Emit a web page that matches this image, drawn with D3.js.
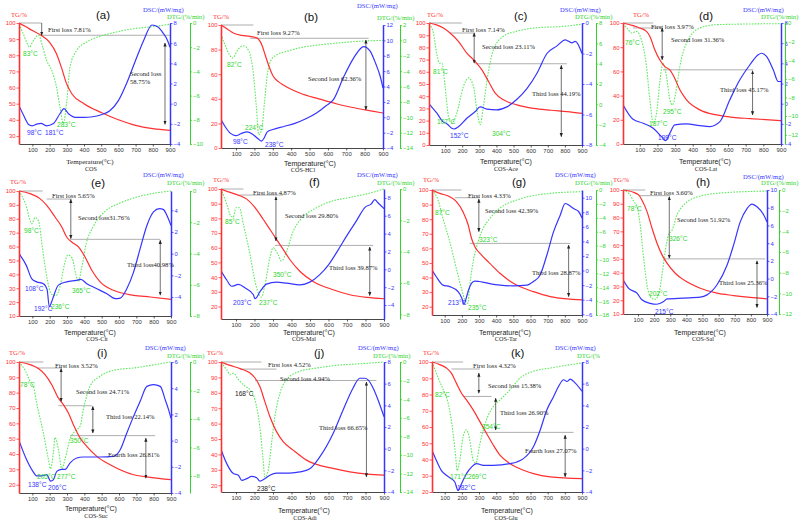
<!DOCTYPE html>
<html><head><meta charset="utf-8">
<script src="https://cdn.jsdelivr.net/npm/d3@7"></script>
<style>body{margin:0;background:#fff}svg{display:block}</style>
</head><body>
<script>
// ---------------- DATA (temperature °C, value) ----------------
const xTicks = [100,200,300,400,500,600,700,800,900];

const tgA = [[22,100],[60,97.8],[100,95.3],[150,92.4],[200,88],[240,81],[270,72],[300,62],[330,56],[400,50],[500,44.5],[600,40],[700,36.5],[800,34.5],[900,33.4]];
const dscA = [[22,-0.2],[50,-1.2],[80,-2.1],[98,-2.2],[130,-2.0],[150,-1.95],[181,-2.2],[220,-2.0],[260,-1.0],[283,-0.5],[310,-1.0],[350,-1.35],[400,-1.35],[450,-1.3],[500,-1.1],[550,-0.7],[600,0.3],[650,2.1],[700,4.3],[750,6.4],[795,7.8],[830,7.6],[860,7.0],[885,6.3],[900,5.6]];
const dtgA = [[22,-0.1],[50,-1.0],[77,-1.9],[83,-2.0],[100,-1.6],[135,-1.0],[160,-2.0],[183,-3.1],[212,-3.9],[240,-5.3],[260,-6.9],[280,-8.3],[300,-6.4],[319,-3.6],[358,-2.25],[416,-1.57],[493,-1.1],[590,-0.74],[687,-0.47],[800,-0.3],[900,-0.1]];

const tgB = [[18,100],[50,97],[85,93.5],[130,91.5],[176,90.8],[213,89.5],[240,84],[260,75],[280,66],[300,59],[330,54],[360,51],[450,44.5],[550,40],[650,35.8],[750,32.5],[850,29.8],[900,28.4]];
const dscB = [[18,-0.3],[40,-1.2],[70,-2.1],[98,-2.4],[130,-2.1],[160,-1.9],[190,-2.2],[220,-2.8],[238,-3.1],[255,-2.6],[270,-1.9],[300,-1.6],[360,-1.2],[420,-0.8],[480,-0.2],[540,0.6],[590,1.5],[630,2.3],[685,5.2],[740,7.7],[795,9.2],[830,8.6],[860,7.0],[885,5.3],[900,3.8]];
const dtgB = [[18,0.8],[40,-0.6],[65,-1.9],[82,-2.3],[110,-1.2],[140,-0.7],[170,-1.4],[195,-4.5],[210,-8.5],[224,-12.3],[240,-11.5],[255,-8],[270,-4.5],[290,-2.6],[320,-1.9],[380,-1.4],[450,-0.95],[550,-0.6],[650,-0.35],[750,-0.15],[900,0]];

const tgC = [[6,100],[50,98.5],[90,95.9],[129,91.8],[178,84.9],[227,75.3],[276,68.5],[315,61.6],[354,52],[393,42.5],[441,37],[520,32.9],[617,30],[720,28.5],[812,27.4],[900,26]];
const dscC = [[6,-5.3],[51,-5.9],[90,-6.5],[110,-6.6],[139,-6.9],[152,-6.95],[178,-6.8],[227,-6.25],[276,-5.8],[305,-5.5],[344,-5.65],[402,-5.7],[461,-5.5],[520,-5.0],[578,-4.3],[637,-3.3],[695,-2.0],[754,-1.5],[802,-1.1],[841,-1.3],[861,-1.2],[900,-2.0]];
const dtgC = [[6,7.9],[32,7.0],[51,5.0],[67,4.05],[81,4.05],[100,1.75],[120,-1.2],[139,-1.87],[168,-0.9],[207,1.75],[237,2.6],[266,1.75],[289,-0.9],[305,-2.0],[324,-0.2],[348,2.7],[383,5.4],[441,6.7],[520,7.2],[617,7.5],[812,7.7],[900,7.9]];

const tgD = [[5,100],[62,97.8],[100,95.9],[138,93.1],[157,89],[185,77.9],[213,69.6],[242,64],[270,61.3],[298,54.4],[327,44.8],[365,36.5],[440,28.2],[535,24],[629,22],[724,21],[900,19.3]];
const dscD = [[5,-0.1],[62,-1.55],[119,-1.94],[176,-2.44],[223,-3.27],[246,-3.67],[270,-2.94],[298,-2.1],[365,-2.0],[440,-2.18],[497,-2.27],[554,-1.78],[610,0.38],[667,2.37],[724,3.86],[771,4.85],[790,5.0],[818,4.7],[856,3.36],[884,2.2],[900,2.2]];
const dtgD = [[5,-0.07],[34,-0.7],[53,-1.07],[81,-0.9],[109,-1.8],[138,-4.66],[157,-8.2],[176,-10.75],[195,-9.7],[213,-6.45],[232,-4.3],[251,-5.7],[270,-8.2],[285,-8.8],[304,-7.5],[327,-4.66],[365,-2.15],[440,-0.54],[535,-0.18],[900,-0.07]];

const tgE = [[23,100],[87,98.1],[144,94.5],[183,89.7],[231,81.3],[270,74.1],[298,66.9],[327,63.3],[366,59.7],[404,52.5],[443,42.9],[491,34.5],[568,28.5],[684,24.9],[780,23.7],[900,22]];
const dscE = [[23,0],[65,-1.08],[96,-2.3],[125,-2.6],[164,-2.77],[185,-3.3],[198,-4.9],[210,-4.5],[221,-4.0],[250,-2.9],[298,-2.6],[356,-2.46],[380,-2.37],[414,-2.77],[472,-3.23],[530,-3.7],[578,-4.15],[607,-4.1],[645,-3.23],[684,-1.7],[722,0.46],[761,2.6],[799,3.85],[834,4.15],[857,4.06],[876,3.54],[900,2.6]];
const dtgE = [[23,0],[60,-0.8],[98,-2.1],[115,-1.7],[135,-1.9],[160,-3.8],[185,-5.6],[210,-6.6],[236,-6.7],[260,-6.1],[285,-4.7],[305,-4.1],[330,-4.3],[350,-5.3],[365,-5.8],[385,-4.9],[410,-3.4],[450,-2.3],[520,-1.3],[600,-0.8],[700,-0.4],[800,-0.15],[900,0]];

const tgF = [[19,100],[68,97.7],[122,95.4],[158,93.1],[203,87.4],[247,79.4],[283,72.6],[319,65.7],[355,58.9],[391,52],[445,44],[517,37.1],[625,31.4],[715,28],[810,26.2],[900,25.3]];
const dscF = [[19,-0.16],[50,-1.2],[77,-1.9],[113,-1.7],[150,-2.1],[194,-2.85],[203,-3.3],[230,-2.5],[265,-1.66],[319,-1.44],[374,-1.55],[445,-1.74],[499,-1.44],[553,-0.6],[600,0.5],[650,2.1],[700,3.8],[750,5.4],[800,7.0],[830,7.3],[850,7.8],[870,7.4],[900,6.8]];
const dtgF = [[19,0],[50,-0.97],[71,-1.7],[85,-1.8],[100,-1.2],[118,-1.2],[140,-2.25],[176,-4.2],[203,-5.9],[221,-6.65],[237,-6.9],[257,-6.1],[283,-4.4],[301,-3.75],[328,-4.2],[346,-4.6],[373,-4],[409,-2.7],[445,-2.0],[535,-1.2],[625,-0.75],[715,-0.54],[810,-0.3],[900,0]];

const tgG = [[26,100],[71,97.7],[129,95.4],[168,92],[207,85],[237,76],[256,66.9],[276,61.1],[315,55.4],[363,49.7],[422,42.9],[500,36],[617,30.3],[715,26.9],[812,25.3],[900,24.6]];
const dscG = [[26,0.07],[51,-0.85],[90,-2.0],[129,-2.2],[178,-2.9],[200,-3.8],[213,-4.6],[225,-3.8],[240,-2.6],[256,-1.76],[275,-1.44],[300,-1.5],[344,-1.7],[422,-2.0],[500,-2.1],[578,-2.0],[617,-1.5],[656,-0.6],[695,2.1],[734,5.3],[773,7.6],[802,9.2],[822,9.0],[851,8.5],[880,8.1],[900,7.2]];
const dtgG = [[26,0],[61,-1.44],[90,-4.1],[129,-7.4],[168,-11.3],[198,-14.2],[217,-15.8],[235,-16.3],[246,-13.7],[266,-10.3],[295,-7.4],[324,-5.5],[363,-4.1],[422,-2.6],[520,-1.44],[617,-0.8],[715,-0.48],[900,-0.24]];

const tgH = [[7,100],[73,98.3],[104,96.4],[124,92.8],[156,84.3],[187,72.2],[218,61.4],[249,52.9],[280,46.9],[331,39.6],[383,34.8],[486,28.7],[590,25.1],[693,23.4],[796,22],[900,21]];
const dscH = [[7,-0.15],[42,-1.1],[94,-1.65],[124,-2.4],[176,-2.8],[215,-2.9],[259,-2.6],[280,-2.3],[383,-2.2],[486,-2.1],[528,-1.84],[590,-0.7],[652,1.5],[693,3.8],[734,6.4],[776,7.9],[807,8.4],[838,8.1],[879,7.2],[900,6.4]];
const dtgH = [[7,0],[52,-0.5],[73,-1.1],[94,-1.6],[114,-3.4],[135,-6.6],[156,-9.2],[176,-10.3],[202,-10.6],[228,-10.1],[249,-8.2],[269,-5.9],[290,-4.3],[311,-3.9],[342,-2.4],[383,-1.45],[445,-0.8],[590,-0.32],[900,-0.1]];

const tgI = [[23,100],[87,98.3],[135,95.7],[173,91.7],[212,85.2],[250,76.5],[279,72.2],[308,66.7],[337,59.1],[376,50.4],[414,45],[472,38.5],[549,33],[684,26.5],[780,24.8],[900,23.3]];
const dscI = [[23,0],[67,-1.46],[106,-2.4],[125,-2.7],[154,-2.7],[183,-2.6],[206,-3.1],[221,-3.0],[241,-2.35],[270,-2.2],[289,-2.2],[318,-1.7],[356,-1.33],[395,-1.25],[491,-1.25],[568,-1.2],[607,-0.7],[645,0.58],[684,1.85],[722,3.0],[761,4.14],[799,4.27],[838,4.14],[867,3.1],[886,2.36],[900,1.7]];
const dtgI = [[23,0],[61,-0.65],[87,-1.35],[106,-1.7],[125,-2.9],[164,-5.0],[192,-6.8],[205,-7.5],[221,-6.4],[231,-5.3],[250,-6.1],[270,-7.5],[289,-6.8],[318,-5.4],[347,-4.85],[376,-4.5],[395,-3.3],[433,-1.7],[491,-1.0],[587,-0.54],[684,-0.42],[800,-0.2],[900,0]];

const tgJ = [[19,100],[68,97.8],[122,95.7],[176,92.8],[203,89.6],[229,84.1],[256,74.3],[283,64.6],[319,54.8],[355,48.3],[409,42.8],[481,36.3],[625,30.9],[715,28.7],[810,27.2],[900,26.5]];
const dscJ = [[19,-0.08],[50,-1.38],[86,-2.3],[113,-2.46],[131,-2.93],[158,-2.77],[185,-2.56],[212,-2.68],[229,-3.0],[256,-2.77],[283,-2.46],[319,-2.25],[391,-2.25],[445,-2.15],[499,-1.85],[553,-0.76],[625,1.4],[679,3.57],[733,5.6],[769,6.5],[796,6.5],[814,6.35],[841,5.6],[868,4.5],[900,2.95]];
const dtgJ = [[19,-0.1],[50,-0.83],[68,-1.37],[86,-1.2],[113,-1.9],[149,-2.6],[176,-3.0],[203,-4.1],[229,-7.0],[247,-10.6],[256,-12.4],[274,-11.7],[292,-8.8],[310,-5.9],[337,-3.4],[373,-1.9],[445,-1.0],[535,-0.65],[625,-0.4],[800,-0.15],[900,0]];

const tgK = [[26,100],[71,98.4],[110,96.3],[139,93.2],[168,87],[198,80.8],[227,76.7],[266,70.5],[305,63.3],[344,56],[383,48.9],[422,42.7],[480,37.5],[559,33.4],[617,31.3],[715,29.3],[900,28.2]];
const dscK = [[26,-0.14],[51,-1.07],[80,-2.0],[110,-2.46],[139,-2.77],[159,-3.08],[178,-3.86],[198,-3.24],[227,-2.3],[256,-1.7],[286,-1.38],[325,-1.54],[383,-1.54],[480,-1.38],[520,-1.23],[559,-0.92],[617,0.17],[656,1.7],[695,3.57],[734,4.8],[763,5.74],[793,6.36],[812,6.2],[832,6.42],[861,6.05],[900,5.3]];
const dtgK = [[26,0],[51,-1.2],[71,-2.1],[100,-3.36],[120,-4.4],[149,-7.7],[164,-10.2],[172,-11.7],[188,-10.6],[207,-8.05],[227,-7.3],[246,-8.4],[266,-10.6],[281,-10.9],[305,-8.8],[344,-6.2],[383,-4.8],[422,-4.1],[480,-3.0],[539,-1.73],[617,-1.0],[715,-0.65],[900,-0.1]];

// reference lines [tStart, tEnd, TG%] and arrows [t, TGfrom, TGto, doubleHeaded]
const refA=[[22,154,100],[154,900,92.4]], arrA=[[154,100,92.4,0],[871,87.6,37.2,1]];
const refB=[[18,195,100],[176,822,89.2]], arrB=[[807,87.8,31.1,1]];
const refC=[[6,198,100],[129,276,91.8],[276,812,66.6]], arrC=[[270,91.8,67.1,1],[779,65.2,6.8,1]];
const refD=[[5,176,100],[62,223,95.9],[232,743,61.3]], arrD=[[227,95.9,69.6,1],[739,60.5,24,1]];
const refE=[[23,160,100],[183,327,94.2],[318,838,65.2]], arrE=[[322,94,65.7,1],[838,64.5,25,1]];
const refF=[[19,140,100],[118,355,95.9],[310,841,61.6]], arrF=[[316,94.7,64.6,1],[823,60.5,27.5,1]];
const refG=[[26,198,100],[159,305,94.7],[246,832,63.4]], arrG=[[299,93.8,71.4,1],[822,62.3,26.9,1]];
const refH=[[7,145,100],[104,300,95.9],[259,889,50]], arrH=[[294,95.2,50.5,1],[838,48.6,14.7,1]];
const refI=[[23,164,100],[125,270,96.1],[250,443,71.5],[318,809,52]], arrI=[[266,95.7,74.3,1],[449,71.1,53.7,1],[755,50.4,24.3,1]];
const refJ=[[19,238,100],[122,319,95.4],[203,859,88]], arrJ=[[805,87,25.4,1]];
const refK=[[26,207,100],[139,305,95.7],[207,373,78.8],[305,851,56.7]], arrK=[[299,93.2,80.8,1],[397,77.7,58.1,1],[802,55,29.3,1]];

// ---------------- LAYOUT ----------------
const RED='#ff3030', BLUE='#3535ff', GREEN='#2fd42f', GREENL='#5ee85e';
const SANS="'Liberation Sans', Arial, sans-serif", SERIF="'Liberation Serif','Times New Roman',serif";
const R=(a,b,s)=>d3.range(a,b+s/2,s);
const TICKFS=5.9, NOTEFS=6.6, PEAKFS=6.6, TITLEFS=6.6;

const panels = [
 {id:'a',name:'COS',tg:tgA,dsc:dscA,dtg:dtgA,ref:refA,arr:arrA,
  g:{x0:19,x1:170,y0:23,y1:144,dx:190},xd:[22,900],tgd:[25,100],tgt:R(30,100,10),dscd:[-4,8],dsct:R(-4,8,2),dtgd:[-10,0],dtgt:R(-10,0,2),
  t:{tg:[11,17],let:[96,19],dsc:[143,12],dtg:[167,19],temp:[90,164],nm:[91,171]},
  notes:[[48,32,'First loss 7.81%'],[130,76,'Second loss'],[130,84,'58.75%']],
  peaks:[[23,56,'83°C','g'],[57,127,'283°C','g'],[27,135,'98°C','b'],[45,135,'181°C','b']]},
 {id:'b',name:'COS-HCl',tg:tgB,dsc:dscB,dtg:dtgB,ref:refB,arr:arrB,
  g:{x0:221,x1:383,y0:25,y1:148,dx:400},xd:[18,900],tgd:[0,100],tgt:R(0,100,20),dscd:[-4,12],dsct:R(-4,12,2),dtgd:[-14,2],dtgt:R(-14,2,2),
  t:{tg:[213,19],let:[304,21],dsc:[357,8],dtg:[377,20],temp:[310,166],nm:[303,172]},
  notes:[[257,35,'First loss 9.27%'],[308,81,'Second loss 62.36%']],
  peaks:[[227,67,'82°C','g'],[245,130,'224°C','g'],[233,144,'98°C','b'],[265,147,'238°C','b']]},
 {id:'c',name:'COS-Ace',tg:tgC,dsc:dscC,dtg:dtgC,ref:refC,arr:arrC,
  g:{x0:429,x1:582,y0:23,y1:145,dx:596},xd:[6,900],tgd:[0,100],tgt:R(0,100,10),dscd:[-8,0],dsct:R(-8,0,2),dtgd:[-4,8],dtgt:R(-4,8,2),
  t:{tg:[427,17],let:[514,20],dsc:[560,12],dtg:[575,19],temp:[506,164],nm:[506,171]},
  notes:[[462,32,'First loss 7.14%'],[482,49,'Second loss 23.11%'],[532,96,'Third loss 44.19%']],
  peaks:[[433,74,'81°C','g'],[437,124,'107°C','g'],[450,138,'152°C','b'],[492,136,'304°C','g']]},
 {id:'d',name:'COS-Lat',tg:tgD,dsc:dscD,dtg:dtgD,ref:refD,arr:arrD,
  g:{x0:623,x1:781,y0:23,y1:144,dx:785},xd:[5,900],tgd:[0,100],tgt:R(0,100,20),dscd:[-4,8],dsct:R(-4,8,2),dtgd:[-13,0],dtgt:R(-12,0,2),
  t:{tg:[633,17],let:[699,20],dsc:[743,12],dtg:[761,19],temp:[705,164],nm:[706,171]},
  notes:[[651,29,'First loss 3.97%'],[671,42,'Second loss 31.36%'],[720,92,'Third loss 45.17%']],
  peaks:[[625,45,'76°C','g'],[649,126,'187°C','g'],[658,140,'199°C','b'],[663,114,'295°C','g']]},
 {id:'e',name:'COS-Cit',tg:tgE,dsc:dscE,dtg:dtgE,ref:refE,arr:arrE,
  g:{x0:19,x1:171,y0:191,y1:316,dx:190},xd:[23,900],tgd:[10,100],tgt:R(10,100,10),dscd:[-5.75,5.78],dsct:R(-4,4,2),dtgd:[-8,0],dtgt:R(-8,0,2),
  t:{tg:[10,184],let:[91,187],dsc:[143,177],dtg:[167,185],temp:[90,335],nm:[97,341]},
  notes:[[52,198,'First loss 5.65%'],[78,220,'Second loss31.76%'],[127,267,'Third loss40.98%']],
  peaks:[[24,233,'98°C','g'],[25,291,'108°C','b'],[34,311,'192°C','b'],[51,309,'236°C','g'],[72,293,'365°C','g']]},
 {id:'f',name:'COS-Mal',tg:tgF,dsc:dscF,dtg:dtgF,ref:refF,arr:arrF,
  g:{x0:221,x1:384,y0:189,y1:319,dx:400},xd:[19,900],tgd:[11.5,100],tgt:R(20,100,10),dscd:[-5.57,9.0],dsct:R(-4,8,2),dtgd:[-8.3,0],dtgt:R(-8,0,2),
  t:{tg:[213,182],let:[309,186],dsc:[357,177],dtg:[377,185],temp:[309,335],nm:[304,341]},
  notes:[[253,195,'First loss 4.87%'],[285,218,'Second loss 29.80%'],[329,270,'Third loss 39.87%']],
  peaks:[[225,224,'85°C','g'],[233,305,'203°C','b'],[259,305,'237°C','g'],[273,277,'350°C','g']]},
 {id:'g',name:'COS-Tar',tg:tgG,dsc:dscG,dtg:dtgG,ref:refG,arr:arrG,
  g:{x0:432,x1:582,y0:190,y1:315,dx:596},xd:[26,900],tgd:[14.3,100],tgt:R(20,100,10),dscd:[-6.1,11.05],dsct:R(-6,10,2),dtgd:[-18,0],dtgt:R(-18,0,2),
  t:{tg:[423,182],let:[512,186],dsc:[555,177],dtg:[575,185],temp:[505,335],nm:[506,341]},
  notes:[[468,198,'First loss 4.33%'],[485,213,'Second loss 42.39%'],[532,275,'Third loss 28.87%']],
  peaks:[[435,215,'87°C','g'],[448,305,'213°C','b'],[468,310,'235°C','g'],[479,242,'323°C','g']]},
 {id:'h',name:'COS-Sal',tg:tgH,dsc:dscH,dtg:dtgH,ref:refH,arr:arrH,
  g:{x0:623,x1:767,y0:190,y1:314,dx:779},xd:[7,900],tgd:[10,100],tgt:R(10,100,10),dscd:[-4,10],dsct:R(-4,10,2),dtgd:[-12,0],dtgt:R(-12,0,2),
  t:{tg:[613,182],let:[696,186],dsc:[743,179],dtg:[761,185],temp:[700,335],nm:[703,341]},
  notes:[[650,195,'First loss 3.60%'],[677,222,'Second loss 51.92%'],[719,285,'Third loss 25.36%']],
  peaks:[[627,211,'78°C','g'],[669,241,'326°C','g'],[649,296,'202°C','g'],[655,314,'215°C','b']]},
 {id:'i',name:'COS-Suc',tg:tgI,dsc:dscI,dtg:dtgI,ref:refI,arr:arrI,
  g:{x0:19,x1:171,y0:362,y1:493,dx:190},xd:[23,900],tgd:[14.6,100],tgt:R(20,100,10),dscd:[-4,6],dsct:R(-4,6,2),dtgd:[-9.2,0],dtgt:R(-8,0,2),
  t:{tg:[9,355],let:[97,357],dsc:[145,350],dtg:[167,358],temp:[91,511],nm:[96,518]},
  notes:[[55,368,'First loss 3.52%'],[76,394,'Second loss 24.71%'],[106,419,'Third loss 22.14%'],[108,457,'Fourth loss 26.81%']],
  peaks:[[20,387,'78°C','g'],[70,443,'350°C','g'],[37,479,'205°C','g'],[57,479,'277°C','g'],[28,487,'138°C','b'],[48,490,'206°C','b']]},
 {id:'j',name:'COS-Adi',tg:tgJ,dsc:dscJ,dtg:dtgJ,ref:refJ,arr:arrJ,
  g:{x0:221,x1:384,y0:362,y1:492,dx:400},xd:[19,900],tgd:[15.6,100],tgt:R(20,100,10),dscd:[-4,8],dsct:R(-4,8,2),dtgd:[-14,0],dtgt:R(-14,0,2),
  t:{tg:[207,355],let:[314,357],dsc:[358,350],dtg:[373,358],temp:[304,513],nm:[305,520]},
  notes:[[268,367,'First loss 4.52%'],[280,381,'Second loss 4.94%'],[319,430,'Third loss 66.65%']],
  peaks:[[235,396,'168°C','k'],[257,491,'238°C','k']]},
 {id:'k',name:'COS-Glu',tg:tgK,dsc:dscK,dtg:dtgK,ref:refK,arr:arrK,cut:600,
  g:{x0:432,x1:582,y0:362,y1:492,dx:601},xd:[26,900],tgd:[20,100],tgt:R(20,100,10),dscd:[-4,8],dsct:R(-4,8,2),dtgd:[-14,0],dtgt:R(-14,0,2),
  t:{tg:[423,355],let:[511,357],dsc:[555,350],dtg:[577,358],temp:[507,513],nm:[506,520]},
  notes:[[473,368,'First loss 4.32%'],[488,388,'Second loss 15.38%'],[500,415,'Third loss 26.90%'],[525,453,'Fourth loss 27.07%']],
  peaks:[[435,397,'82°C','g'],[482,429,'354°C','g'],[450,479,'171°C','g'],[468,479,'269°C','g'],[457,490,'182°C','b']]}
];

// ---------------- DRAW ----------------
const svg = d3.select('body').append('svg').attr('width',799).attr('height',526);
svg.append('rect').attr('width',799).attr('height',526).attr('fill','#fff');
const defs = svg.append('defs');
defs.append('marker').attr('id','ah').attr('viewBox','0 0 10 10').attr('refX',9).attr('refY',5)
  .attr('markerUnits','userSpaceOnUse').attr('markerWidth',4).attr('markerHeight',4).attr('orient','auto-start-reverse')
  .append('path').attr('d','M0,1L10,5L0,9z').attr('fill','#222');

const colOf = {g:GREEN,b:BLUE,k:'#222',r:RED};

function styleAxis(g,color,w){
  g.select('.domain').attr('stroke',color).attr('stroke-width',w);
  g.selectAll('.tick line').attr('stroke',color).attr('stroke-width',0.8);
  g.selectAll('text').attr('fill',color).attr('font-size',TICKFS).attr('font-family',SANS);
}
function txt(g,x,y,s,o){
  const t=g.append('text').attr('x',x).attr('y',y).text(s)
    .attr('font-family',o.f||SANS).attr('font-size',o.s||7).attr('fill',o.c||'#222');
  if(o.a) t.attr('text-anchor',o.a);
  return t;
}

panels.forEach(p=>{
  const G=p.g;
  const x=d3.scaleLinear().domain(p.xd).range([G.x0,G.x1]);
  const yT=d3.scaleLinear().domain(p.tgd).range([G.y1,G.y0]);
  const yS=d3.scaleLinear().domain(p.dscd).range([G.y1,G.y0]);
  const yD=d3.scaleLinear().domain(p.dtgd).range([G.y1,G.y0]);
  const gp=svg.append('g');
  if(p.cut){
    defs.append('clipPath').attr('id','cut-'+p.id).append('rect').attr('x',0).attr('y',0).attr('width',p.cut).attr('height',526);
    gp.attr('clip-path',`url(#cut-${p.id})`);
  }
  const cid='clip-'+p.id;
  defs.append('clipPath').attr('id',cid).append('rect')
    .attr('x',G.x0).attr('y',G.y0-3).attr('width',G.x1-G.x0).attr('height',G.y1-G.y0+6);

  gp.selectAll('line.ref').data(p.ref).join('line').attr('class','ref')
    .attr('x1',d=>x(d[0])).attr('x2',d=>x(d[1])).attr('y1',d=>yT(d[2])).attr('y2',d=>yT(d[2]))
    .attr('stroke','#9b9b9b').attr('stroke-width',0.8);

  const lg=(ys)=>d3.line().x(d=>x(d[0])).y(d=>ys(d[1])).curve(d3.curveMonotoneX);
  gp.append('path').datum(p.dtg).attr('d',lg(yD)).attr('fill','none').attr('stroke',GREENL)
    .attr('stroke-width',1.1).attr('stroke-dasharray','1.6,1.3').attr('clip-path',`url(#${cid})`);
  gp.append('path').datum(p.tg).attr('d',lg(yT)).attr('fill','none').attr('stroke',RED)
    .attr('stroke-width',1.2).attr('clip-path',`url(#${cid})`);
  gp.append('path').datum(p.dsc).attr('d',lg(yS)).attr('fill','none').attr('stroke',BLUE)
    .attr('stroke-width',1.2).attr('clip-path',`url(#${cid})`);

  gp.selectAll('line.arr').data(p.arr).join('line').attr('class','arr')
    .attr('x1',d=>x(d[0])).attr('x2',d=>x(d[0])).attr('y1',d=>yT(d[1])).attr('y2',d=>yT(d[2]))
    .attr('stroke','#333').attr('stroke-width',0.7)
    .attr('marker-end','url(#ah)').attr('marker-start',d=>d[3]?'url(#ah)':null);

  const ax=gp.append('g').attr('transform',`translate(0,${G.y1})`)
    .call(d3.axisBottom(x).tickValues(xTicks).tickSize(2.5).tickSizeOuter(0).tickPadding(1.5));
  styleAxis(ax,'#333',0.9);
  const al=gp.append('g').attr('transform',`translate(${G.x0},0)`)
    .call(d3.axisLeft(yT).tickValues(p.tgt).tickSize(2.5).tickSizeOuter(0).tickPadding(1));
  styleAxis(al,RED,1.6);
  const ar=gp.append('g').attr('transform',`translate(${G.x1},0)`)
    .call(d3.axisRight(yS).tickValues(p.dsct).tickSize(2.5).tickSizeOuter(0).tickPadding(1));
  styleAxis(ar,BLUE,1.5);
  const ad=gp.append('g').attr('transform',`translate(${G.dx},0)`)
    .call(d3.axisRight(yD).tickValues(p.dtgt).tickSize(2).tickSizeOuter(0).tickPadding(1));
  styleAxis(ad,GREEN,1);

  const T=p.t;
  txt(gp,T.tg[0],T.tg[1],'TG/%',{f:SERIF,s:TITLEFS,c:RED});
  txt(gp,T.let[0],T.let[1],'('+p.id+')',{f:SANS,s:11.5,c:'#111'});
  txt(gp,T.dsc[0],T.dsc[1],'DSC/(mW/mg)',{f:SERIF,s:TITLEFS,c:BLUE});
  txt(gp,T.dtg[0],T.dtg[1],'DTG/(%/min)',{f:SERIF,s:TITLEFS,c:GREEN});
  txt(gp,T.temp[0],T.temp[1],'Temperature(°C)',{f:p.id==='a'?SERIF:SANS,s:7,c:'#222',a:'middle'});
  txt(gp,T.nm[0],T.nm[1],p.name,{f:SERIF,s:6.2,c:'#222',a:'middle'});

  p.notes.forEach(n=>txt(gp,n[0],n[1],n[2],{f:SERIF,s:NOTEFS,c:'#222'}));
  p.peaks.forEach(n=>txt(gp,n[0],n[1],n[2],{f:SANS,s:PEAKFS,c:colOf[n[3]]}));
});
</script>
</body></html>
